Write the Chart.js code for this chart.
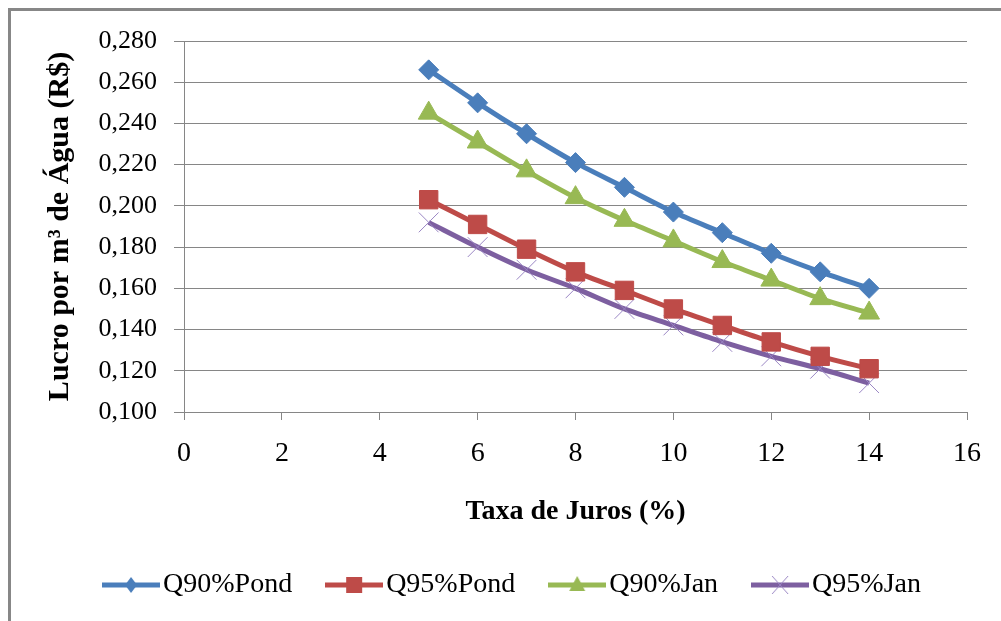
<!DOCTYPE html>
<html><head><meta charset="utf-8">
<script src="https://cdn.jsdelivr.net/npm/chart.js@4.4.1/dist/chart.umd.min.js"></script>
<style>
html,body{margin:0;padding:0;background:#fff;overflow:hidden;width:1001px;height:621px;}
#frame{position:absolute;left:8px;top:8px;width:1100px;height:700px;border:3px solid #878787;}
#wrap{position:absolute;left:0;top:0;width:1001px;height:621px;}
</style></head><body>
<div id="frame"></div>
<div id="wrap"><canvas id="c"></canvas></div>
<script>
// ---- data ----
const taxaJuros = [5, 6, 7, 8, 9, 10, 11, 12, 13, 14];
const q90Pond = [0.266, 0.250, 0.235, 0.221, 0.209, 0.197, 0.187, 0.177, 0.168, 0.160];
const q95Pond = [0.203, 0.191, 0.179, 0.168, 0.159, 0.150, 0.142, 0.134, 0.127, 0.121];
const q90Jan  = [0.245, 0.231, 0.217, 0.204, 0.193, 0.183, 0.173, 0.164, 0.155, 0.148];
const q95Jan  = [0.192, 0.180, 0.169, 0.160, 0.150, 0.142, 0.134, 0.127, 0.121, 0.114];
const seriesNames = ['Q90%Pond', 'Q95%Pond', 'Q90%Jan', 'Q95%Jan'];
const xTickValues = [0, 2, 4, 6, 8, 10, 12, 14, 16];
const yTickValues = [0.100, 0.120, 0.140, 0.160, 0.180, 0.200, 0.220, 0.240, 0.260, 0.280];
const xTitle = 'Taxa de Juros (%)';
const yTitle = 'Lucro por m³ de Água (R$)';

const FONT = '"Liberation Serif", "Times New Roman", serif';
const colors = ['#4A7EBB', '#BE4B48', '#98B954', '#7D5FA0'];
const GRID = '#868686';

function pts(ys) { return taxaJuros.map((x, i) => ({ x: x, y: ys[i] })); }

// legend icons: line + marker
function makeIcon(kind, color) {
  const cv = document.createElement('canvas');
  cv.width = 58; cv.height = 24;
  const g = cv.getContext('2d');
  g.strokeStyle = color; g.lineWidth = 5;
  g.beginPath(); g.moveTo(0, 12); g.lineTo(58, 12); g.stroke();
  g.fillStyle = color;
  const cx = 29, cy = 12;
  g.beginPath();
  if (kind === 'diamond') {
    g.moveTo(cx, cy - 8); g.lineTo(cx + 6, cy); g.lineTo(cx, cy + 8); g.lineTo(cx - 6, cy); g.closePath(); g.fill();
  } else if (kind === 'square') {
    g.rect(cx - 8, cy - 8, 16, 16); g.fill();
  } else if (kind === 'triangle') {
    g.moveTo(cx, cy - 9); g.lineTo(cx + 8, cy + 6); g.lineTo(cx - 8, cy + 6); g.closePath(); g.fill();
  } else {
    g.strokeStyle = '#9A86C4'; g.lineWidth = 1;
    g.moveTo(cx - 8, cy - 9); g.lineTo(cx + 8, cy + 9); g.moveTo(cx + 8, cy - 9); g.lineTo(cx - 8, cy + 9); g.stroke();
  }
  return cv;
}
const legendIcons = [
  makeIcon('diamond', colors[0]), makeIcon('square', colors[1]),
  makeIcon('triangle', colors[2]), makeIcon('cross', colors[3])
];

const common = { borderWidth: 5, tension: 0.3, fill: false, pointBorderWidth: 1 };

new Chart(document.getElementById('c'), {
  type: 'line',
  data: {
    datasets: [
      Object.assign({ label: seriesNames[0], data: pts(q90Pond), borderColor: colors[0], backgroundColor: colors[0],
        pointStyle: 'rectRot', pointRadius: 10, pointBackgroundColor: colors[0], pointBorderColor: colors[0] }, common),
      Object.assign({ label: seriesNames[1], data: pts(q95Pond), borderColor: colors[1], backgroundColor: colors[1],
        pointStyle: 'rect', pointRadius: 13, pointBackgroundColor: colors[1], pointBorderColor: colors[1] }, common),
      Object.assign({ label: seriesNames[2], data: pts(q90Jan), borderColor: colors[2], backgroundColor: colors[2],
        pointStyle: 'triangle', pointRadius: 12, pointBackgroundColor: colors[2], pointBorderColor: colors[2] }, common),
      Object.assign({ label: seriesNames[3], data: pts(q95Jan), borderColor: colors[3], backgroundColor: colors[3],
        pointStyle: 'crossRot', pointRadius: 14, pointBackgroundColor: '#9A86C4', pointBorderColor: '#9A86C4' }, common)
    ]
  },
  options: {
    responsive: true,
    maintainAspectRatio: false,
    animation: false,
    events: [],
    layout: { padding: { left: 67, right: 34, top: 41, bottom: 12 } },
    plugins: {
      tooltip: { enabled: false },
      legend: {
        position: 'bottom',
        labels: {
          usePointStyle: true,
          pointStyleWidth: 36,
          padding: 44,
          color: '#000',
          font: { family: FONT, size: 28 },
          generateLabels: (chart) => chart.data.datasets.map((ds, i) => ({
            text: ds.label, pointStyle: legendIcons[i], fillStyle: ds.borderColor,
            strokeStyle: ds.borderColor, lineWidth: 0, hidden: false, datasetIndex: i, fontColor: '#000'
          }))
        }
      }
    },
    scales: {
      x: {
        type: 'linear', min: 0, max: 16,
        afterBuildTicks: (s) => { s.ticks = xTickValues.map(v => ({ value: v })); },
        afterFit: (s) => { s.height = 115; },
        grid: { drawOnChartArea: false, drawTicks: true, tickLength: 8, color: GRID, lineWidth: 1 },
        border: { color: GRID, width: 1 },
        ticks: { color: '#000', font: { family: FONT, size: 28 }, padding: 17, maxRotation: 0, autoSkip: false,
          callback: (v) => String(v) },
        title: { display: true, text: xTitle, color: '#000', font: { family: FONT, size: 28, weight: 'bold', lineHeight: 1 },
          padding: { top: 0, bottom: 1 } }
      },
      y: {
        type: 'linear', min: 0.1, max: 0.28,
        afterBuildTicks: (s) => { s.ticks = yTickValues.map(v => ({ value: v })); },
        afterFit: (s) => { s.width = 117; },
        grid: { color: GRID, lineWidth: 1, tickLength: 10 },
        border: { color: GRID, width: 1 },
        ticks: { color: '#000', font: { family: FONT, size: 26 }, padding: 17, autoSkip: false,
          callback: (v) => Number(v).toFixed(3).replace('.', ',') },
        title: { display: true, text: yTitle, color: '#000', font: { family: FONT, size: 30, weight: 'bold', lineHeight: 1 },
          padding: { top: -22, bottom: 0 } }
      }
    }
  }
});
</script>
</body></html>
